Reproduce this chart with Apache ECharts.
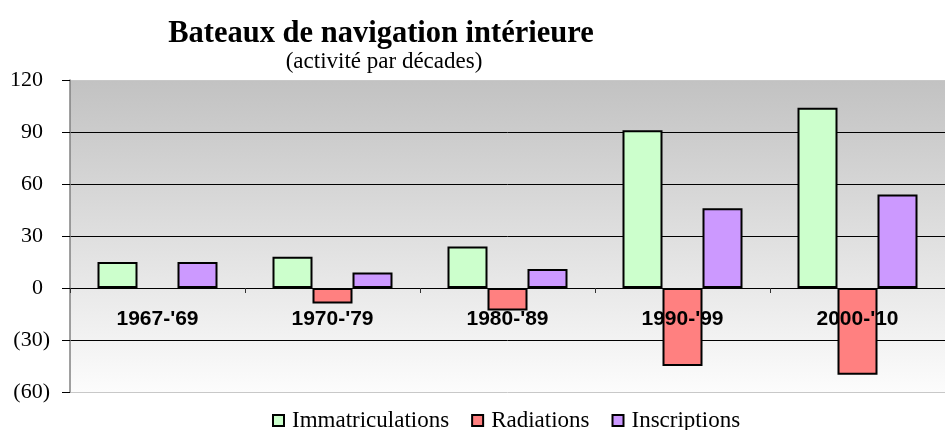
<!DOCTYPE html>
<html>
<head>
<meta charset="utf-8">
<script src="https://cdn.jsdelivr.net/npm/echarts@6/dist/echarts.min.js"></script>
<style>
html,body{margin:0;padding:0;background:#fff;}
#chart{width:945px;height:430px;}
</style>
</head>
<body>
<div id="chart"></div>
<script>
const categories = ["1967-'69", "1970-'79", "1980-'89", "1990-'99", "2000-'10"];
const immatriculations = [15, 18, 24, 91, 104];
const radiations = [null, -9, -13, -45, -50];
const inscriptions = [15, 9, 11, 46, 54];
const seriesNames = ["Immatriculations", "Radiations", "Inscriptions"];
const yTicks = [-60, -30, 0, 30, 60, 90, 120];

const serif = '"Liberation Serif", "Times New Roman", serif';
const sans = '"Liberation Sans", Arial, sans-serif';

const gridTop = 80, gridBottom = 38, chartH = 430;
const yMin = yTicks[0], yMax = yTicks[yTicks.length - 1];
const plotH = chartH - gridTop - gridBottom;
// distance from bottom of plot to the zero line (lets the category axis sit on zero)
const zeroOffset = plotH * (0 - yMin) / (yMax - yMin);

const chart = echarts.init(document.getElementById('chart'), null, {renderer: 'canvas'});

function barSeries(name, data, color) {
  return {
    name: name,
    type: 'bar',
    data: data,
    barWidth: 40,
    barGap: '0%',
    z: 2,
    itemStyle: {color: color, borderColor: '#000', borderWidth: 2},
    emphasis: {disabled: true},
    animation: false
  };
}

chart.setOption({
  animation: false,
  backgroundColor: '#ffffff',
  title: [
    {
      text: 'Bateaux de navigation intérieure',
      left: 376, top: 14, textAlign: 'center',
      textStyle: {fontFamily: serif, fontWeight: 'bold', fontSize: 30.5, color: '#000'}
    },
    {
      text: '(activité par décades)',
      left: 379, top: 45, textAlign: 'center',
      textStyle: {fontFamily: serif, fontWeight: 'normal', fontSize: 23, color: '#000'}
    }
  ],
  legend: {
    data: seriesNames,
    left: 272, top: 409, padding: 0,
    itemWidth: 11, itemHeight: 11, itemGap: 22,
    icon: 'rect',
    textStyle: {fontFamily: serif, fontSize: 23, color: '#000', padding: [0, 0, 0, 3]}
  },
  grid: {
    left: 70, right: 0, top: gridTop, bottom: gridBottom,
    show: true,
    borderWidth: 0,
    backgroundColor: {
      type: 'linear', x: 0, y: 0, x2: 0, y2: 1,
      colorStops: [{offset: 0, color: '#c2c2c2'}, {offset: 1, color: '#fcfcfc'}]
    }
  },
  xAxis: {
    type: 'category',
    data: categories,
    z: 5,
    offset: -zeroOffset,
    axisLine: {onZero: false, lineStyle: {color: '#000', width: 1}},
    axisTick: {show: true, length: 5, lineStyle: {color: '#333'}},
    axisLabel: {margin: 21, fontFamily: sans, fontWeight: 'bold', fontSize: 21, color: '#000'},
    splitLine: {show: false}
  },
  yAxis: {
    type: 'value',
    min: yMin, max: yMax, interval: 30,
    axisLine: {show: true, lineStyle: {color: '#808080', width: 1.5}},
    axisTick: {show: true, length: 8, lineStyle: {color: '#000'}},
    axisLabel: {
      margin: 20,
      fontFamily: serif, fontSize: 22, color: '#000',
      formatter: function (v) { return v < 0 ? '{n|(' + (-v) + ')}' : '{p|' + v + '}'; },
      rich: {
        n: {fontFamily: serif, fontSize: 22, color: '#000'},
        p: {fontFamily: serif, fontSize: 22, color: '#000', padding: [0, 7, 0, 0]}
      }
    },
    splitLine: {show: true, lineStyle: {color: ['#c8c8c8', '#000', '#000', '#000', '#000', '#000', '#c8c8c8'], width: 1}}
  },
  series: [
    barSeries(seriesNames[0], immatriculations, '#ccffcc'),
    barSeries(seriesNames[1], radiations, '#ff8080'),
    barSeries(seriesNames[2], inscriptions, '#cc99ff')
  ]
});
</script>
</body>
</html>
